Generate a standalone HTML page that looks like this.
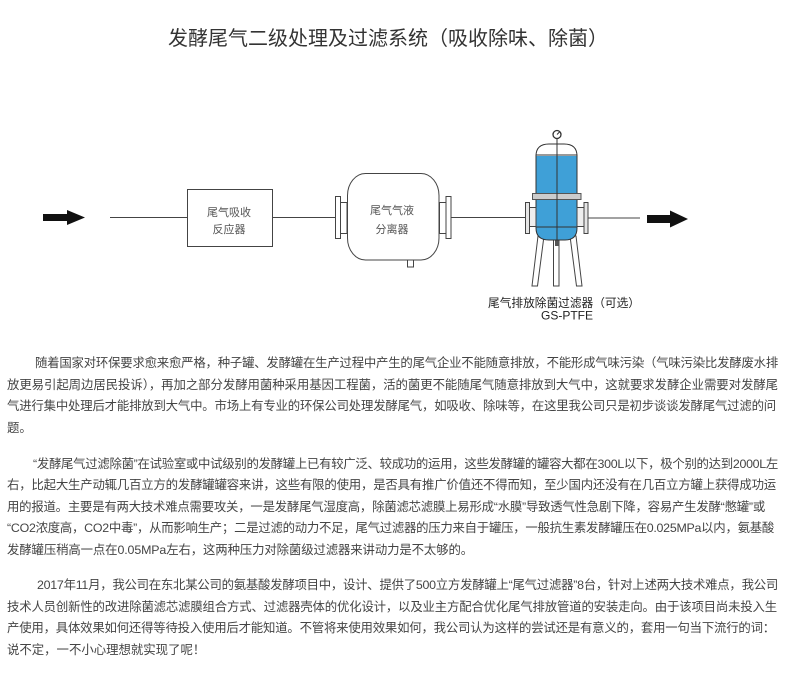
<!DOCTYPE html>
<html><head><meta charset="utf-8">
<style>
html,body{margin:0;padding:0;background:#fff;}
body{width:800px;height:681px;position:relative;overflow:hidden;font-family:"Liberation Sans","Noto Sans CJK SC",sans-serif;}
.t{position:absolute;left:168px;top:27px;font-size:20px;line-height:24px;color:#333;white-space:nowrap;}
.l{position:absolute;font-size:12.4px;line-height:20px;height:20px;color:#444;white-space:nowrap;overflow:visible;}
.n{position:absolute;font-size:12.4px;line-height:20px;height:20px;color:#444;white-space:nowrap;}
svg{position:absolute;left:0;top:0;}
svg text{font-family:"Liberation Sans","Noto Sans CJK SC",sans-serif;}
</style></head><body>
<div class="t">发酵尾气二级处理及过滤系统（吸收除味、除菌）</div>

<svg width="800" height="340" viewBox="0 0 800 340">
  <polygon points="43,214 67,214 67,210 85,217.5 67,225 67,221 43,221" fill="#111"/>
  <line x1="110" y1="217.5" x2="187" y2="217.5" stroke="#444" stroke-width="1"/>
  <rect x="187.5" y="189.5" width="85" height="57" fill="#fff" stroke="#444" stroke-width="1"/>
  <text x="229" y="216" font-size="11" fill="#555" text-anchor="middle">尾气吸收</text>
  <text x="229" y="233" font-size="11" fill="#555" text-anchor="middle">反应器</text>
  <line x1="272" y1="217.5" x2="335" y2="217.5" stroke="#444" stroke-width="1"/>
  <rect x="335.5" y="196.5" width="5" height="42" fill="#fff" stroke="#444"/>
  <rect x="340.5" y="202.5" width="6.5" height="31" fill="#fff" stroke="#444"/>
  <rect x="347.5" y="173.5" width="91.5" height="86.5" rx="18" ry="22" fill="#fff" stroke="#444"/>
  <rect x="407.5" y="260" width="6" height="7" fill="#fff" stroke="#444"/>
  <rect x="439.5" y="202.5" width="6.5" height="31" fill="#fff" stroke="#444"/>
  <rect x="446" y="196.5" width="5" height="42" fill="#fff" stroke="#444"/>
  <text x="392" y="214" font-size="11" fill="#555" text-anchor="middle">尾气气液</text>
  <text x="392" y="233" font-size="11" fill="#555" text-anchor="middle">分离器</text>
  <line x1="451" y1="217.5" x2="525" y2="217.5" stroke="#444" stroke-width="1"/>
  <polygon points="538,236 544,236 537.5,286 532,286" fill="#fff" stroke="#444"/>
  <rect x="553.5" y="240" width="5.5" height="46" fill="#fff" stroke="#444"/>
  <polygon points="570,236 576,236 582,286 576.5,286" fill="#fff" stroke="#444"/>
  <rect x="555" y="238" width="4" height="8" fill="#555"/>
  <path d="M536,155 L577,155 L577,228 Q577,240 565,240 L549,240 Q536,240 536,228 Z" fill="#3fa0d7" stroke="#333" stroke-width="1"/>
  <path d="M536,156 Q536,144 549,144 L564,144 Q577,144 577,156" fill="#fff" stroke="#333" stroke-width="1"/>
  <line x1="536" y1="155" x2="577" y2="155" stroke="#333"/>
  <line x1="536" y1="227" x2="577" y2="227" stroke="#333"/>
  <rect x="532.5" y="193.5" width="48.5" height="6" fill="#ccc" stroke="#555"/>
  <line x1="557" y1="139" x2="557" y2="240" stroke="#333"/>
  <circle cx="557" cy="134.5" r="4" fill="#fff" stroke="#333" stroke-width="1.3"/>
  <line x1="557" y1="134.5" x2="560" y2="131.5" stroke="#333"/>
  <rect x="525.5" y="202.5" width="4" height="31" fill="#e6e6e6" stroke="#444"/>
  <rect x="529.5" y="207.5" width="6.5" height="19" fill="#eee" stroke="#444"/>
  <rect x="577" y="207.5" width="7" height="19" fill="#eee" stroke="#444"/>
  <rect x="584" y="202.5" width="4" height="31" fill="#e6e6e6" stroke="#444"/>
  <line x1="588" y1="218" x2="640" y2="218" stroke="#444" stroke-width="1"/>
  <polygon points="647,215 670,215 670,210.5 688,219 670,227.5 670,223 647,223" fill="#111"/>
  <text x="564" y="307" font-size="11.7" fill="#222" text-anchor="middle">尾气排放除菌过滤器（可选）</text>
  <text x="567" y="319.5" font-size="12" fill="#222" text-anchor="middle">GS-PTFE</text>
</svg>

<div class="l" style="left:35px;top:353px;width:743px;">随着国家对环保要求愈来愈严格，种子罐、发酵罐在生产过程中产生的尾气企业不能随意排放，不能形成气味污染（气味污染比发酵废水排</div>
<div class="l" style="left:7px;top:374.5px;width:771px;">放更易引起周边居民投诉），再加之部分发酵用菌种采用基因工程菌，活的菌更不能随尾气随意排放到大气中，这就要求发酵企业需要对发酵尾</div>
<div class="l" style="left:7px;top:396px;width:769px;">气进行集中处理后才能排放到大气中。市场上有专业的环保公司处理发酵尾气，如吸收、除味等，在这里我公司只是初步谈谈发酵尾气过滤的问</div>
<div class="n" style="left:7px;top:417.5px;">题。</div>

<div class="l" style="left:33px;top:453.5px;width:745px;">“发酵尾气过滤除菌”在试验室或中试级别的发酵罐上已有较广泛、较成功的运用，这些发酵罐的罐容大都在300L以下，极个别的达到2000L左</div>
<div class="l" style="left:7px;top:475px;width:769px;">右，比起大生产动辄几百立方的发酵罐罐容来讲，这些有限的使用，是否具有推广价值还不得而知，至少国内还没有在几百立方罐上获得成功运</div>
<div class="l" style="left:7px;top:496.5px;width:758px;">用的报道。主要是有两大技术难点需要攻关，一是发酵尾气湿度高，除菌滤芯滤膜上易形成“水膜”导致透气性急剧下降，容易产生发酵“憋罐”或</div>
<div class="l" style="left:7px;top:518px;width:767px;">“CO2浓度高，CO2中毒”，从而影响生产；二是过滤的动力不足，尾气过滤器的压力来自于罐压，一般抗生素发酵罐压在0.025MPa以内，氨基酸</div>
<div class="l" style="left:7px;top:539.5px;width:466px;">发酵罐压稍高一点在0.05MPa左右，这两种压力对除菌级过滤器来讲动力是不太够的。</div>

<div class="l" style="left:37px;top:575px;width:741px;">2017年11月，我公司在东北某公司的氨基酸发酵项目中，设计、提供了500立方发酵罐上“尾气过滤器”8台，针对上述两大技术难点，我公司</div>
<div class="l" style="left:7px;top:596.5px;width:770px;">技术人员创新性的改进除菌滤芯滤膜组合方式、过滤器壳体的优化设计，以及业主方配合优化尾气排放管道的安装走向。由于该项目尚未投入生</div>
<div class="l" style="left:7px;top:618px;width:768px;">产使用，具体效果如何还得等待投入使用后才能知道。不管将来使用效果如何，我公司认为这样的尝试还是有意义的，套用一句当下流行的词：</div>
<div class="n" style="left:7px;top:639.5px;">说不定，一不小心理想就实现了呢！</div>

<script>
(function(){
  var els=document.querySelectorAll('.l');
  for(var i=0;i<els.length;i++){
    var e=els[i];
    var t=parseFloat(e.style.width);
    e.style.width='auto';
    var w=e.getBoundingClientRect().width;
    var n=Array.from(e.textContent).length;
    if(n>0){e.style.letterSpacing=((t-w)/n)+'px';}
  }
})();
</script>
</body></html>
